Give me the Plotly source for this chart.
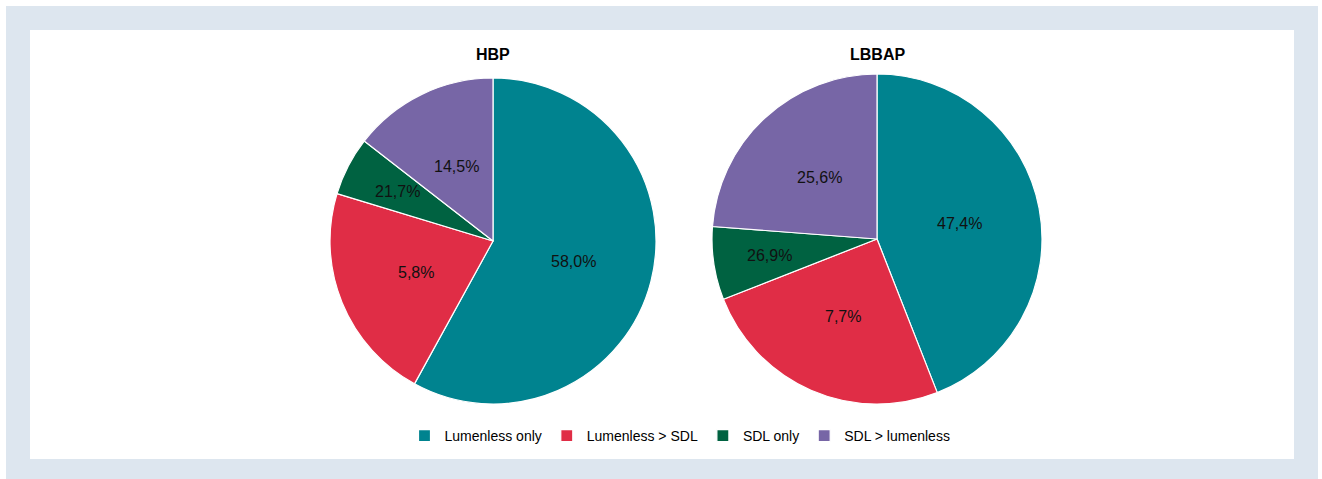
import math
import plotly.graph_objects as go

categories = ["Lumenless only", "Lumenless > SDL", "SDL only", "SDL > lumenless"]
colors = ["#00838f", "#e02d46", "#006241", "#7766a6"]

hbp_values = [58.0, 21.7, 5.8, 14.5]
hbp_labels = [58.0, 5.8, 21.7, 14.5]

lbbap_values = [47.4, 26.9, 7.7, 25.6]
lbbap_labels = [47.4, 7.7, 26.9, 25.6]

titles = ["HBP", "LBBAP"]


def fmt(v):
    return f"{v:.1f}".replace(".", ",") + "%"


W, H = 1322, 479
ml, mr, mt, mb = 30, 28, 30, 20
pw, ph = W - ml - mr, H - mt - mb


def px_x(x):
    return (x - ml) / pw


def px_y(y):
    return (H - mb - y) / ph


font_family = "Liberation Sans, Arial, sans-serif"

# pie boxes in pixels (left, right, top, bottom)
boxes = [(330, 656, 78, 404), (712, 1042, 74, 404)]

fig = go.Figure()
annotations = []
for vals, labs, box, title in zip([hbp_values, lbbap_values], [hbp_labels, lbbap_labels], boxes, titles):
    x0, x1, y0, y1 = box
    fig.add_trace(go.Pie(
        labels=categories,
        values=vals,
        textinfo="none",
        marker=dict(colors=colors, line=dict(color="white", width=1.2)),
        sort=False,
        direction="clockwise",
        rotation=0,
        domain=dict(x=[px_x(x0), px_x(x1)], y=[px_y(y1), px_y(y0)]),
        hoverinfo="label+value",
    ))
    # value labels, placed at the middle angle of each slice
    cx, cy = (x0 + x1) / 2, (y0 + y1) / 2
    r = min(x1 - x0, y1 - y0) / 2
    total = sum(vals)
    cum = 0.0
    for v, lab in zip(vals, labs):
        mid = (cum + v / 2) / total * 2 * math.pi
        cum += v
        frac = 0.51 if v / total >= 0.1 else 0.66
        lx = cx + r * frac * math.sin(mid)
        ly = cy - r * frac * math.cos(mid)
        annotations.append(dict(text=fmt(lab), x=px_x(lx), y=px_y(ly), xref="paper", yref="paper",
                                showarrow=False, font=dict(size=16, color="#111111"),
                                xanchor="center", yanchor="middle"))
    annotations.append(dict(text=f"<b>{title}</b>", x=px_x(cx), y=px_y(54), xref="paper", yref="paper",
                            showarrow=False, font=dict(size=16), xanchor="center", yanchor="middle"))

fig.update_layout(
    width=W, height=H,
    margin=dict(l=ml, r=mr, t=mt, b=mb),
    paper_bgcolor="white",
    font=dict(family=font_family, color="black", size=14),
    showlegend=True,
    legend=dict(orientation="h", x=px_x(680), xanchor="center", y=px_y(436), yanchor="middle",
                font=dict(size=14), itemwidth=30, bgcolor="rgba(0,0,0,0)"),
    shapes=[
        dict(type="rect", xref="paper", yref="paper", x0=px_x(6), x1=px_x(1318), y0=px_y(479), y1=px_y(6),
             fillcolor="#dde6ef", line=dict(width=0), layer="below"),
        dict(type="rect", xref="paper", yref="paper", x0=px_x(30), x1=px_x(1294), y0=px_y(459), y1=px_y(30),
             fillcolor="white", line=dict(width=0), layer="below"),
    ],
    annotations=annotations,
)

fig.write_html("out.html", config={"displayModeBar": False},
               post_script="document.body.style.margin='0';document.body.style.overflow='hidden';")
